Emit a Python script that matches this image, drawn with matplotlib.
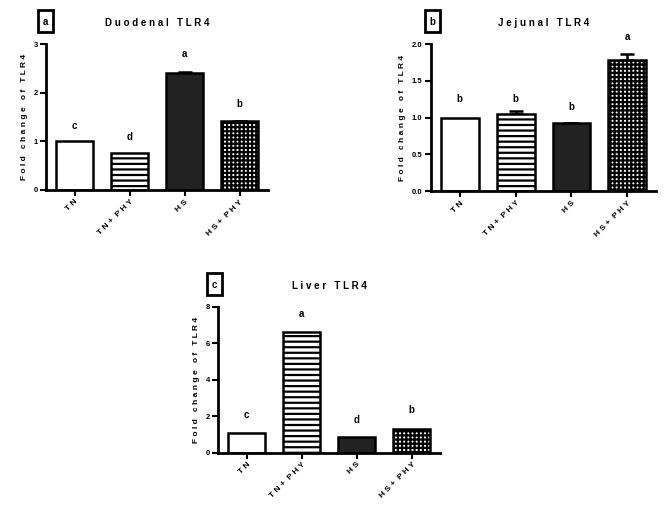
import matplotlib.pyplot as plt
from matplotlib.patches import Rectangle
import numpy as np

plt.rcParams['font.family'] = ['Liberation Sans', 'DejaVu Sans']
plt.rcParams['font.weight'] = 'bold'
plt.rcParams['hatch.linewidth'] = 1.6

groups = ['TN', 'TN+PHY', 'HS', 'HS+PHY']
tick_labels = ['T N', 'T N +  P H Y', 'H S', 'H S +  P H Y']

duo_vals = [1.0, 0.76, 2.41, 1.41]
duo_err = [0.0, 0.0, 0.01, 0.01]
duo_letters = ['c', 'd', 'a', 'b']
duo_letter_y = [1.32, 1.09, 2.79, 1.76]

jej_vals = [1.0, 1.05, 0.92, 1.78]
jej_err = [0.0, 0.04, 0.005, 0.09]
jej_letters = ['b', 'b', 'b', 'a']
jej_letter_y = [1.25, 1.25, 1.14, 2.1]

liv_vals = [1.05, 6.6, 0.85, 1.28]
liv_err = [0.0, 0.0, 0.0, 0.0]
liv_letters = ['c', 'a', 'd', 'b']
liv_letter_y = [2.07, 7.6, 1.8, 2.33]

faces = ['white', 'white', '#222222', 'white']
hatches = [None, '---', None, '++++']


def panel(ax, vals, err, letters, letter_y, ymax, yticks, yfmt, title, tag, tag_x):
    x = np.arange(len(vals))
    for i in range(len(vals)):
        ax.bar(x[i], vals[i], width=0.68, color=faces[i], edgecolor='black',
               linewidth=1.8, hatch=hatches[i], zorder=2)
        if err[i] > 0:
            ax.errorbar(x[i], vals[i], yerr=[[0], [err[i]]], fmt='none',
                        ecolor='black', elinewidth=1.8, capsize=5, capthick=1.8, zorder=1)
        ax.text(x[i], letter_y[i], letters[i], ha='center', va='center',
                fontsize=7, fontweight='bold', clip_on=False)
    ax.set_xlim(-0.518, 3.518)
    ax.set_ylim(0, ymax)
    ax.set_yticks(yticks)
    ax.set_yticklabels([yfmt.format(t) for t in yticks], fontsize=5.5)
    ax.set_xticks(x)
    ax.set_xticklabels(tick_labels, rotation=45, ha='right', rotation_mode='anchor', fontsize=6)
    for s in ['top', 'right']:
        ax.spines[s].set_visible(False)
    for s in ['left', 'bottom']:
        ax.spines[s].set_linewidth(2)
    ax.tick_params(width=1.5, length=4, pad=2)
    ax.set_ylabel('F o l d   c h a n g e   o f   T L R 4', fontsize=6, fontweight='bold', labelpad=4)
    ax.set_title(title, fontsize=7, fontweight='bold', pad=13)
    # panel tag in a tall narrow box
    ax.add_patch(Rectangle((tag_x - 0.034, 1.082), 0.068, 0.151, transform=ax.transAxes,
                           facecolor='white', edgecolor='black', linewidth=2, clip_on=False))
    ax.text(tag_x, 1.15, tag, transform=ax.transAxes, fontsize=7, fontweight='bold',
            ha='center', va='center')


fig = plt.figure(figsize=(6.69, 5.08), dpi=100)
ax1 = fig.add_axes([0.0688, 0.626, 0.332, 0.287])
ax2 = fig.add_axes([0.644, 0.624, 0.337, 0.289])
ax3 = fig.add_axes([0.326, 0.109, 0.332, 0.287])

panel(ax1, duo_vals, duo_err, duo_letters, duo_letter_y, 3, [0, 1, 2, 3], '{:.0f}',
      'D u o d e n a l   T L R 4', 'a', -0.003)
panel(ax2, jej_vals, jej_err, jej_letters, jej_letter_y, 2.0, [0, 0.5, 1.0, 1.5, 2.0], '{:.1f}',
      'J e j u n a l   T L R 4', 'b', 0.007)
panel(ax3, liv_vals, liv_err, liv_letters, liv_letter_y, 8, [0, 2, 4, 6, 8], '{:.0f}',
      'L i v e r   T L R 4', 'c', -0.018)

fig.savefig('out.png', dpi=100)
